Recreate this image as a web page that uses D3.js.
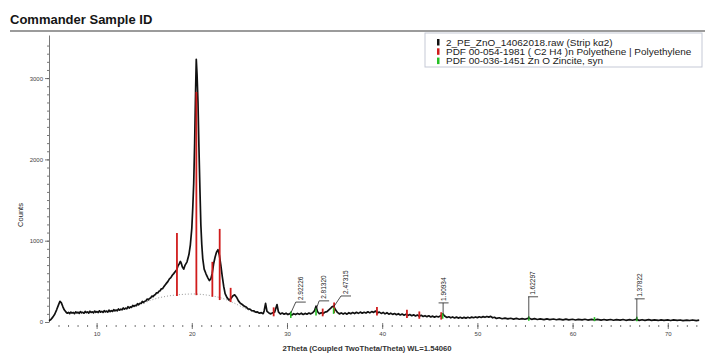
<!DOCTYPE html>
<html>
<head>
<meta charset="utf-8">
<script src="https://cdn.jsdelivr.net/npm/d3@7"></script>
<style>
body { margin: 0; background: #fff; }
svg { display: block; font-family: "Liberation Sans", Arial, sans-serif; }
</style>
</head>
<body>
<div id="chart"></div>
<script>

var svgWidth = 705, svgHeight = 354;

// measured scan, [2theta, counts]
var scanPoints = [
  [5.0,15],[5.2,30],[5.4,60],[5.6,95],[5.8,150],[6.0,210],[6.15,255],[6.3,235],[6.45,190],[6.6,150],
  [6.8,120],[6.925,108],[7.05,118],[7.175,104],[7.3,122],[7.425,110],[7.55,117],[7.675,102],[7.8,125],[7.925,111],
  [8.05,120],[8.175,106],[8.3,128],[8.425,113],[8.55,119],[8.675,108],[8.8,130],[8.925,115],[9.05,124],[9.175,110],
  [9.3,132],[9.425,117],[9.55,126],[9.675,112],[9.8,135],[9.925,119],[10.05,128],[10.175,116],[10.3,138],[10.425,121],
  [10.55,131],[10.675,118],[10.8,140],[10.925,125],[11.05,135],[11.175,122],[11.3,146],[11.425,128],[11.55,140],[11.675,130],
  [11.8,152],[11.925,136],[12.05,147],[12.175,138],[12.3,160],[12.425,145],[12.55,158],[12.675,150],[12.8,172],[12.925,158],
  [13.05,170],[13.175,162],[13.3,188],[13.425,172],[13.55,186],[13.675,180],[13.8,204],[13.925,192],[14.05,205],[14.175,200],
  [14.3,226],[14.425,212],[14.55,230],[14.675,228],[14.8,252],[14.925,240],[15.05,255],[15.175,258],[15.3,282],[15.425,272],
  [15.55,290],[15.675,296],[15.8,318],[15.925,312],[16.05,330],[16.175,338],[16.3,360],[16.425,358],[16.55,378],[16.675,385],
  [16.8,408],[16.925,410],[17.05,432],[17.2,455],[17.35,478],[17.5,500],[17.65,530],[17.8,545],[17.95,575],[18.1,595],
  [18.25,618],[18.4,640],[18.55,690],[18.7,720],[18.8,745],[18.9,720],[19.0,680],[19.15,650],[19.3,700],[19.5,740],
  [19.7,830],[19.85,950],[20.0,1150],[20.1,1400],[20.2,1700],[20.3,2200],[20.4,2850],[20.47,3230],[20.55,3050],[20.65,2700],
  [20.75,2150],[20.85,1650],[20.95,1200],[21.05,950],[21.15,780],[21.3,650],[21.5,590],[21.7,540],[21.85,510],[22.0,530],
  [22.15,600],[22.3,720],[22.45,800],[22.6,860],[22.75,890],[22.9,820],[23.05,700],[23.2,560],[23.35,440],[23.5,350],
  [23.7,300],[23.9,270],[24.1,285],[24.3,320],[24.5,335],[24.7,305],[24.9,260],[25.1,230],[25.3,215],[25.5,195],
  [25.7,185],[25.9,162],[26.1,158],[26.3,140],[26.5,138],[26.7,122],[26.9,124],[27.1,108],[27.3,115],[27.5,102],
  [27.6,135],[27.75,230],[27.9,130],[28.1,112],[28.3,100],[28.5,114],[28.7,120],[28.95,215],[29.1,125],[29.3,98],
  [29.5,110],[29.7,96],[29.9,108],[30.1,92],[30.3,104],[30.5,85],[30.7,102],[30.9,92],[31.1,106],[31.3,94],
  [31.5,108],[31.7,93],[31.9,106],[32.1,96],[32.3,110],[32.5,100],[32.7,114],[32.9,140],[33.05,195],[33.2,130],
  [33.4,102],[33.6,114],[33.8,104],[34.0,122],[34.2,128],[34.4,150],[34.6,170],[34.75,188],[34.9,195],[35.1,150],
  [35.3,118],[35.5,100],[35.7,112],[35.9,98],[36.1,110],[36.3,96],[36.5,114],[36.7,102],[36.9,116],[37.1,104],
  [37.3,120],[37.5,106],[37.7,122],[37.9,108],[38.1,120],[38.3,110],[38.5,126],[38.7,112],[38.9,128],[39.1,118],
  [39.3,135],[39.5,112],[39.7,122],[39.9,106],[40.1,118],[40.3,100],[40.5,114],[40.7,96],[40.9,108],[41.1,94],
  [41.3,104],[41.5,90],[41.7,102],[41.9,86],[42.1,98],[42.3,84],[42.5,95],[42.7,80],[42.9,92],[43.1,78],
  [43.3,88],[43.5,74],[43.7,86],[43.9,72],[44.1,82],[44.3,68],[44.5,78],[44.7,66],[44.9,76],[45.1,62],
  [45.3,72],[45.5,60],[45.7,70],[45.9,62],[46.1,74],[46.25,82],[46.4,95],[46.6,70],[46.8,56],[47.0,64],
  [47.2,52],[47.4,62],[47.6,50],[47.8,60],[48.0,48],[48.2,58],[48.4,47],[48.6,57],[48.8,48],[49.0,58],
  [49.2,50],[49.4,60],[49.6,52],[49.8,62],[50.0,54],[50.2,64],[50.4,56],[50.6,66],[50.8,58],[51.0,68],
  [51.2,60],[51.4,70],[51.6,52],[51.8,58],[52.0,44],[52.3,52],[52.6,40],[52.9,48],[53.2,38],[53.5,46],
  [53.8,36],[54.1,44],[54.4,34],[54.7,42],[55.0,34],[55.4,48],[55.7,33],[56.0,41],[56.3,31],[56.6,39],
  [57.0,30],[57.3,38],[57.6,29],[58.0,37],[58.3,28],[58.6,36],[59.0,27],[59.3,35],[59.6,27],[60.0,34],
  [60.3,25],[60.6,33],[61.0,26],[61.3,34],[61.6,24],[62.0,32],[62.3,25],[62.6,33],[63.0,23],[63.3,31],
  [63.6,24],[64.0,31],[64.3,22],[64.6,30],[65.0,23],[65.3,31],[65.6,21],[66.0,29],[66.3,22],[66.7,32],
  [67.0,20],[67.3,28],[67.6,21],[68.0,29],[68.3,20],[68.6,27],[69.0,19],[69.3,27],[69.6,20],[70.0,26],
  [70.3,18],[70.6,26],[71.0,19],[71.3,25],[71.6,17],[72.0,24],[72.3,18],[72.6,25],[73.0,17],[73.3,22]
];

// fitted background (dotted)
var backgroundPoints = [
  [15.0,230],[15.6,265],[16.6,300],[17.5,320],[18.5,335],[19.5,343],[20.3,345],[21.0,340],
  [22.0,325],[23.0,300],[23.6,275],[24.5,230],[25.7,160],[26.5,120],[27.3,100]
];

// stick patterns: [2theta, from counts, to counts]
var peSticks = [
  [18.44,320,1095],[20.48,330,2830],[22.16,310,740],[22.93,270,1145],[24.08,245,420],
  [28.6,70,180],[33.75,70,165],[34.95,110,240],[39.45,80,185],[42.6,50,150],[43.9,40,130],[46.2,30,120]
];
var znoSticks = [
  [30.4,50,130],[33.05,80,170],[34.9,100,175],[46.35,40,110],[55.4,15,70],[62.3,10,60],[66.75,10,65]
];

// d-spacing labels: [text, 2theta at peak, counts at peak, 2theta of label, counts of label bar]
var peakLabels = [
  ["2.92226",30.4,110,31.45,245],
  ["2.81320",33.05,150,33.9,260],
  ["2.47315",34.9,185,36.2,320],
  ["1.90934",46.4,95,46.45,235],
  ["1.62297",55.4,40,55.85,310],
  ["1.37822",66.75,30,67.05,285]
];

var legendLabels = [
  "2_PE_ZnO_14062018.raw (Strip k\u03b12)",
  "PDF 00-054-1981 ( C2 H4 )n Polyethene | Polyethylene",
  "PDF 00-036-1451 Zn O Zincite, syn"
];
var legendColors = ["#111", "#d01c1c", "#25c025"];

var xMajorTicks = [10,20,30,40,50,60,70];
var xMinorTicks = d3.range(6,74,1);
var yMajorTicks = [0,1000,2000,3000];
var yMinorTicks = d3.range(100,3500,100);

var svg = d3.select("#chart")
  .append("svg")
  .attr("width", svgWidth)
  .attr("height", svgHeight);

// title
svg.append("text")
  .attr("x", 10).attr("y", 24)
  .attr("font-size", 13).attr("font-weight", "bold").attr("fill", "#151515")
  .text("Commander Sample ID");
svg.append("line")
  .attr("x1", 10).attr("x2", 705).attr("y1", 31).attr("y2", 31)
  .attr("stroke", "#7a7a7a").attr("stroke-width", 1.5);

var x = d3.scaleLinear().domain([5, 73.7]).range([49, 703]);
var y = d3.scaleLinear().domain([0, 3530]).range([322, 35]);

// y axis
svg.append("g")
  .attr("transform", "translate(49,0)")
  .call(d3.axisLeft(y).tickValues(yMajorTicks).tickFormat(d3.format("d"))
    .tickSize(4).tickSizeOuter(0).tickPadding(2));
svg.append("g")
  .attr("transform", "translate(49,0)")
  .call(d3.axisLeft(y).tickValues(yMinorTicks).tickSize(2).tickFormat(""))
  .select(".domain").remove();

// x axis (no base line)
var xAxis = svg.append("g")
  .attr("transform", "translate(0,323)")
  .call(d3.axisBottom(x).tickValues(xMajorTicks).tickSize(6).tickPadding(3));
xAxis.select(".domain").remove();
svg.append("g")
  .attr("transform", "translate(0,325)")
  .call(d3.axisBottom(x).tickValues(xMinorTicks).tickSize(2).tickFormat(""))
  .select(".domain").remove();

svg.selectAll(".tick text").attr("font-size", 6).attr("fill", "#444")
  .attr("font-family", "Liberation Sans, Arial, sans-serif");
svg.selectAll(".tick line, .domain").attr("stroke", "#555").attr("stroke-width", 0.8);

// axis titles
svg.append("text")
  .attr("transform", "translate(23,215) rotate(-90)")
  .attr("text-anchor", "middle").attr("font-size", 7.5).attr("fill", "#222")
  .text("Counts");
svg.append("text")
  .attr("x", 367).attr("y", 351)
  .attr("text-anchor", "middle").attr("font-size", 7.7).attr("font-weight", "bold").attr("fill", "#333")
  .text("2Theta (Coupled TwoTheta/Theta) WL=1.54060");

// background curve
var line = d3.line().x(d => x(d[0])).y(d => y(d[1]));
svg.append("path")
  .attr("d", line(backgroundPoints))
  .attr("fill", "none").attr("stroke", "#999").attr("stroke-width", 1)
  .attr("stroke-dasharray", "1,2");

// scan
svg.append("path")
  .attr("d", line(scanPoints))
  .attr("fill", "none").attr("stroke", "#111").attr("stroke-width", 1.7)
  .attr("stroke-linejoin", "round");

// sticks
svg.append("g").selectAll("line")
  .data(peSticks).enter().append("line")
  .attr("x1", d => x(d[0])).attr("x2", d => x(d[0]))
  .attr("y1", d => y(d[1])).attr("y2", d => y(d[2]))
  .attr("stroke", legendColors[1]).attr("stroke-width", 1.8);
svg.append("g").selectAll("line")
  .data(znoSticks).enter().append("line")
  .attr("x1", d => x(d[0])).attr("x2", d => x(d[0]))
  .attr("y1", d => y(d[1])).attr("y2", d => y(d[2]))
  .attr("stroke", legendColors[2]).attr("stroke-width", 1.6);

// d-spacing labels
var labels = svg.append("g").selectAll("g")
  .data(peakLabels).enter().append("g");
labels.append("line")
  .attr("x1", d => x(d[3]) - 5).attr("x2", d => x(d[3]) + 5)
  .attr("y1", d => y(d[4])).attr("y2", d => y(d[4]))
  .attr("stroke", "#222").attr("stroke-width", 0.8);
labels.append("line")
  .attr("x1", d => x(d[1])).attr("y1", d => y(d[2]))
  .attr("x2", d => Math.max(x(d[3]) - 5, Math.min(x(d[3]) + 5, x(d[1]))))
  .attr("y2", d => y(d[4]))
  .attr("stroke", "#222").attr("stroke-width", 0.8);
labels.append("text")
  .attr("transform", d => "translate(" + x(d[3]) + "," + (y(d[4]) - 2) + ") rotate(-90)")
  .attr("dy", "0.35em").attr("font-size", 6.5).attr("fill", "#222")
  .text(d => d[0]);

// legend
var legend = svg.append("g");
legend.append("rect")
  .attr("x", 425).attr("y", 33).attr("width", 277).attr("height", 34)
  .attr("fill", "#fff").attr("stroke", "#c5c9d6").attr("stroke-width", 1);
var items = legend.selectAll("g.item")
  .data(legendLabels).enter().append("g").attr("class", "item")
  .attr("transform", (d, i) => "translate(0," + (45.5 + i * 9.3) + ")");
items.append("rect")
  .attr("x", 437).attr("y", -6.5).attr("width", 2.5).attr("height", 6.5)
  .attr("fill", (d, i) => legendColors[i]);
items.append("text")
  .attr("transform", "translate(446,0) scale(1.17,1)")
  .attr("font-size", 8.5).attr("fill", "#222")
  .text(d => d);

</script>
</body>
</html>
